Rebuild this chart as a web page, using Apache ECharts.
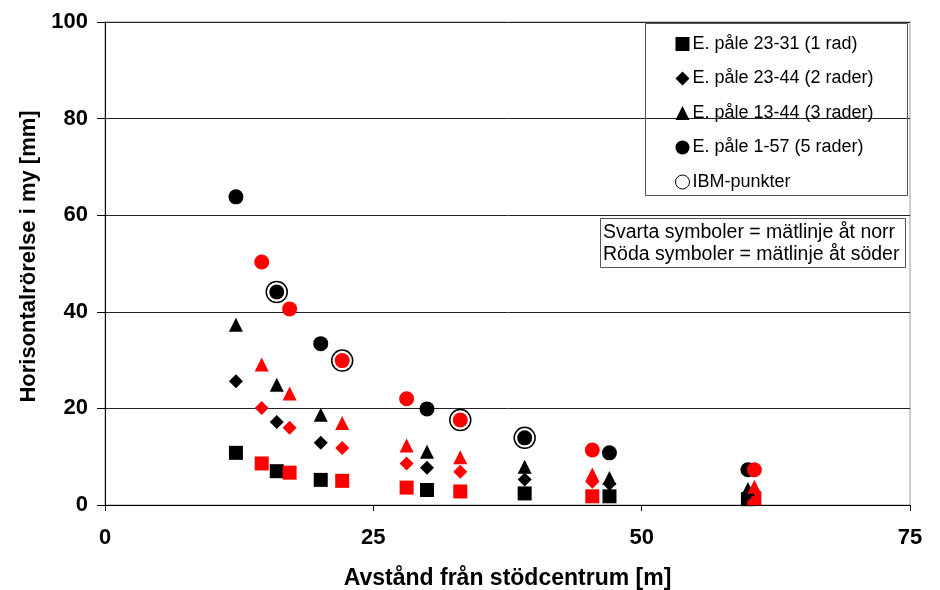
<!DOCTYPE html>
<html>
<head>
<meta charset="utf-8">
<script src="https://cdn.jsdelivr.net/npm/echarts@6/dist/echarts.min.js"></script>
<style>html,body{margin:0;padding:0;background:#fff;}#c{width:940px;height:590px;}</style>
</head>
<body>
<div id="c"></div>
<script>
// North measuring line (black symbols)
var xNorth = [12.2, 16.0, 20.1, 30.0, 39.1, 47.0, 59.9];
var sqNorth = [10.8, 7.0, 5.2, 3.1, 2.4, 1.8, 1.2];
var diaNorth = [25.6, 17.2, 12.9, 7.7, 5.3, 4.4, 2.3];
var triNorth = [37.3, 24.9, 18.7, 11.0, 7.9, 5.6, 3.3];
var cirNorth = [63.8, 44.1, 33.4, 19.9, 13.9, 10.8, 7.3];
// South measuring line (red symbols)
var xSouth = [14.6, 17.2, 22.1, 28.1, 33.1, 45.4, 60.5];
var sqSouth = [8.6, 6.7, 5.0, 3.6, 2.8, 1.8, 1.4];
var diaSouth = [20.1, 16.0, 11.8, 8.6, 6.9, 4.8, 2.6];
var triSouth = [29.1, 23.1, 17.0, 12.3, 9.9, 6.3, 3.8];
var cirSouth = [50.3, 40.6, 29.9, 22.0, 17.6, 11.4, 7.3];
// IBM points
var ibmX = [16.0, 22.1, 33.1, 39.1];
var ibmY = [44.1, 29.9, 17.6, 13.9];

var seriesNames = ['E. påle 23-31 (1 rad)', 'E. påle 23-44 (2 rader)', 'E. påle 13-44 (3 rader)', 'E. påle 1-57 (5 rader)', 'IBM-punkter'];
var xTicks = [0, 25, 50, 75];
var yTicks = [0, 20, 40, 60, 80, 100];

var FONT = 'Liberation Sans, Arial, sans-serif';
var RED = '#ff0000';

function build(yN, yS) {
  var d = [];
  for (var i = 0; i < xNorth.length; i++) d.push({ value: [xNorth[i], yN[i]] });
  for (var j = 0; j < xSouth.length; j++) d.push({ value: [xSouth[j], yS[j]], itemStyle: { color: RED } });
  return d;
}
var ibmData = ibmX.map(function (x, i) { return [x, ibmY[i]]; });

var legendData = seriesNames.map(function (n, i) {
  if (i === 4) return { name: n, icon: 'circle', itemStyle: { color: '#fff', borderColor: '#000', borderWidth: 1 } };
  return { name: n };
});

var chart = echarts.init(document.getElementById('c'), null, { renderer: 'canvas' });
chart.setOption({
  animation: false,
  backgroundColor: '#fff',
  textStyle: { fontFamily: FONT },
  grid: { left: 105, right: 30, top: 22, bottom: 85, containLabel: false, outerBoundsMode: 'none',
    show: true, borderColor: '#999', borderWidth: 1, backgroundColor: 'transparent' },
  xAxis: {
    type: 'value', min: xTicks[0], max: xTicks[xTicks.length - 1], interval: 25,
    name: 'Avstånd från stödcentrum [m]', nameLocation: 'middle', nameGap: 62,
    nameTextStyle: { fontFamily: FONT, fontSize: 23, fontWeight: 'bold', color: '#000' },
    axisLine: { show: true, onZero: false, lineStyle: { color: '#000', width: 1 } },
    axisTick: { show: true, inside: false, length: 6, lineStyle: { color: '#000' } },
    axisLabel: { fontFamily: FONT, fontSize: 22, fontWeight: 'bold', color: '#000', margin: 22 },
    splitLine: { show: false }
  },
  yAxis: {
    type: 'value', min: yTicks[0], max: yTicks[yTicks.length - 1], interval: 20,
    name: 'Horisontalrörelse i my [mm]', nameLocation: 'middle', nameGap: 63,
    nameTextStyle: { fontFamily: FONT, fontSize: 22, fontWeight: 'bold', color: '#000', padding: [0, 0, 0, 14] },
    axisLine: { show: true, onZero: false, lineStyle: { color: '#000', width: 1 } },
    axisTick: { show: true, inside: false, length: 8, lineStyle: { color: '#000' } },
    axisLabel: { fontFamily: FONT, fontSize: 22, fontWeight: 'bold', color: '#000', margin: 17 },
    splitLine: { show: true, lineStyle: { color: '#222', width: 1 } }
  },
  legend: {
    orient: 'vertical', left: 675, top: 35,
    itemWidth: 14, itemHeight: 14, itemGap: 16.5, padding: 0,
    data: legendData,
    textStyle: { fontFamily: FONT, fontSize: 18, color: '#000', padding: [0, 0, 0, -2] },
    selectedMode: false
  },
  graphic: [
    { type: 'rect', left: 645, top: 23, shape: { width: 262, height: 172 }, style: { fill: 'transparent', stroke: '#555', lineWidth: 1 }, z: 5 },
    { type: 'rect', left: 600, top: 218, shape: { width: 305, height: 49 }, style: { fill: '#fff', stroke: '#555', lineWidth: 1 }, z: 5 },
    { type: 'text', left: 603, top: 222, style: { text: 'Svarta symboler = mätlinje åt norr\nRöda symboler = mätlinje åt söder', font: '19.5px ' + FONT, fill: '#000', lineHeight: 22 }, z: 6 }
  ],
  series: [
    { name: seriesNames[4], type: 'scatter', symbol: 'circle', symbolSize: 21, z: 1,
      itemStyle: { color: '#fff', borderColor: '#000', borderWidth: 1.5, opacity: 1 }, data: ibmData },
    { name: seriesNames[0], type: 'scatter', symbol: 'rect', symbolSize: 14, z: 3,
      itemStyle: { color: '#000', opacity: 1 }, data: build(sqNorth, sqSouth) },
    { name: seriesNames[1], type: 'scatter', symbol: 'diamond', symbolSize: 14, z: 3,
      itemStyle: { color: '#000', opacity: 1 }, data: build(diaNorth, diaSouth) },
    { name: seriesNames[2], type: 'scatter', symbol: 'triangle', symbolSize: 14, z: 3,
      itemStyle: { color: '#000', opacity: 1 }, data: build(triNorth, triSouth) },
    { name: seriesNames[3], type: 'scatter', symbol: 'circle', symbolSize: 15, z: 3,
      itemStyle: { color: '#000', opacity: 1 }, data: build(cirNorth, cirSouth) }
  ]
});
</script>
</body>
</html>
